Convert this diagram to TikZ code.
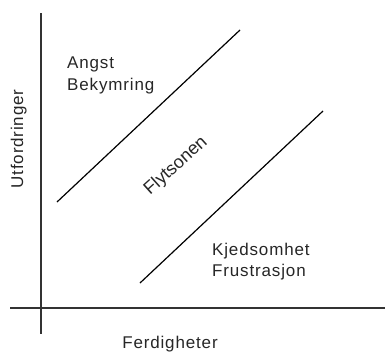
\documentclass[tikz,border=0pt]{standalone}
\usepackage{fontspec}
\newfontfamily\labfont[LetterSpace=5]{Liberation Sans}
\newfontfamily\plainfont{Liberation Sans}
\begin{document}
\begin{tikzpicture}[x=1pt,y=-1pt,
  axis/.style={line width=1.8pt,draw=black!80},
  diag/.style={line width=1.2pt,draw=black},
  lab/.style={inner sep=0pt,text=black!85,font=\labfont\fontsize{17}{22}\selectfont}]
\useasboundingbox (0,0) rectangle (385,351);
\coordinate (ytop) at (41,13);
\coordinate (ybot) at (41,334);
\coordinate (xl) at (10,308);
\coordinate (xr) at (386,308);
\draw[axis] (ytop) -- (ybot);
\draw[axis] (xl) -- (xr);
\coordinate (a1) at (57,202);
\coordinate (a2) at (240,30);
\coordinate (b1) at (140,283);
\coordinate (b2) at (323,111);
\draw[diag] (a1) -- (a2);
\draw[diag] (b1) -- (b2);
\node[lab,anchor=north west,align=left] (angst) at (67,57) {Angst\\Bekymring};
\node[lab,anchor=north west,align=left,font=\labfont\fontsize{17}{21}\selectfont] (kjed) at (212,243) {Kjedsomhet\\Frustrasjon};
\node[lab,anchor=center,rotate=42,font=\plainfont\fontsize{18}{22}\selectfont] (flyt) at (176,166) {Flytsonen};
\node[lab,anchor=base] (ferd) at (170,348) {Ferdigheter};
\node[lab,anchor=base,rotate=90] (utf) at (23,139) {Utfordringer};
\end{tikzpicture}
\end{document}
